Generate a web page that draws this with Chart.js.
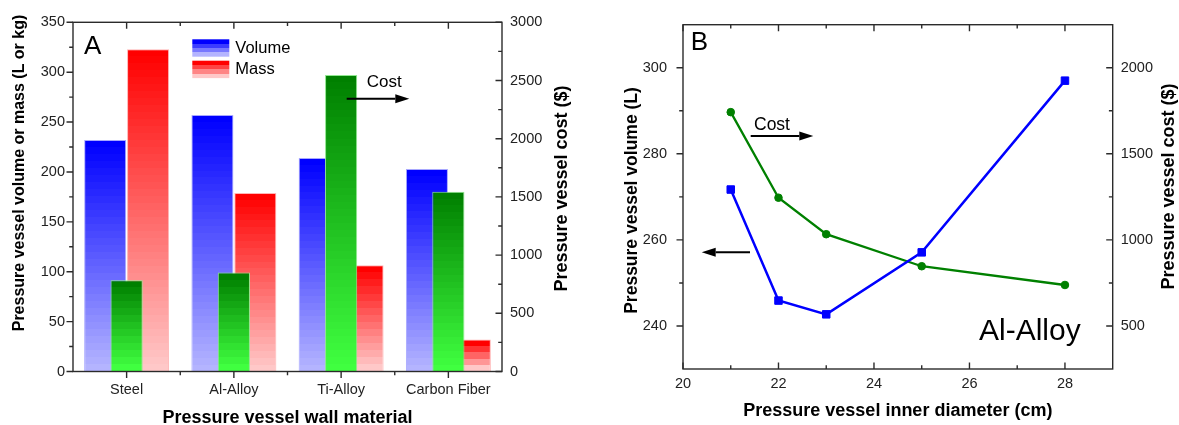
<!DOCTYPE html>
<html>
<head>
<meta charset="utf-8">
<script src="https://cdn.jsdelivr.net/npm/chart.js@4.4.1/dist/chart.umd.min.js"></script>
<style>
  html, body { margin: 0; padding: 0; background: #fff; }
  #wrap { position: relative; width: 1179px; height: 425px; }
  #wrap canvas { position: absolute; top: 0; }
  #chartA { left: 0; }
  #chartB { left: 600px; }
</style>
</head>
<body>
<div id="wrap">
  <canvas id="chartA" width="600" height="425"></canvas>
  <canvas id="chartB" width="579" height="425"></canvas>
</div>
<script>
// Panel A: vessel wall materials
const materials = ['Steel', 'Al-Alloy', 'Ti-Alloy', 'Carbon Fiber'];
const volumeL = [232, 257, 214, 203];
const massKg = [323, 179, 106.5, 32];
const costUsd = [785, 850, 2547, 1545];
const volMassTicks = [0, 50, 100, 150, 200, 250, 300, 350];
const costTicksA = [0, 500, 1000, 1500, 2000, 2500, 3000];

// Panel B: Al-alloy vessel against inner diameter
const diameterCm = [21, 22, 23, 25, 28];
const volumeB = [271.7, 245.9, 242.7, 257.1, 297];
const costB = [1742, 1245, 1033, 847, 738];
const diameterTicks = [20, 22, 24, 26, 28];
const volumeTicksB = [240, 260, 280, 300];
const costTicksB = [500, 1000, 1500, 2000];

Chart.defaults.font.family = '"Liberation Sans", Arial, sans-serif';
Chart.defaults.color = '#222';

// top colour -> bottom colour of each gradient fill
const VOL = [[0, 0, 255], [180, 180, 255]];
const MASS = [[255, 0, 0], [255, 200, 200]];
const COST = [[0, 128, 0], [64, 255, 64]];

// stepped vertical gradient, roughly one band every 7px
function banded(ctx, y0, y1, stops) {
  const [top, bot] = stops;
  const g = ctx.createLinearGradient(0, y0, 0, y1);
  const n = Math.max(4, Math.round(Math.abs(y1 - y0) / 7));
  for (let i = 0; i < n; i++) {
    const t = i / (n - 1);
    const c = 'rgb(' + top.map((v, k) => Math.round(v + (bot[k] - v) * t)).join(',') + ')';
    g.addColorStop(i / n, c);
    g.addColorStop((i + 1) / n, c);
  }
  return g;
}

function barFill(stops) {
  return c => {
    if (c.type !== 'data' || !c.chart.chartArea) return 'rgb(' + stops[0].join(',') + ')';
    const y = c.chart.scales[c.dataset.yAxisID];
    return banded(c.chart.ctx, y.getPixelForValue(c.raw), y.getPixelForValue(0), stops);
  };
}

const useTicks = list => s => { s.ticks = list.map(value => ({ value })); };
const plain = v => String(v);

// box around the plot area with major/minor tick marks (dir 1 = outward, -1 = inward)
const framePlugin = {
  id: 'frame',
  afterDatasetsDraw(chart, args, opts) {
    const { ctx, chartArea: a } = chart;
    ctx.save();
    ctx.strokeStyle = '#2b2b2b';
    ctx.lineWidth = 1.4;
    ctx.strokeRect(a.left, a.top, a.right - a.left, a.bottom - a.top);
    ctx.beginPath();
    for (const [id, side, dir] of opts.marks) {
      const s = chart.scales[id];
      const major = s.ticks.map((t, i) => s.getPixelForTick(i));
      const minor = [];
      for (let i = 0; i < major.length - 1; i++) minor.push((major[i] + major[i + 1]) / 2);
      if (major.length > 1) {
        const step = major[1] - major[0];
        minor.push(major[0] - step / 2, major[major.length - 1] + step / 2);
      }
      const lo = s.isHorizontal() ? a.left : a.top;
      const hi = s.isHorizontal() ? a.right : a.bottom;
      const mark = (p, len) => {
        const L = len * dir;
        if (side === 'bottom') { ctx.moveTo(p, a.bottom); ctx.lineTo(p, a.bottom + L); }
        else if (side === 'top') { ctx.moveTo(p, a.top); ctx.lineTo(p, a.top - L); }
        else if (side === 'left') { ctx.moveTo(a.left, p); ctx.lineTo(a.left - L, p); }
        else { ctx.moveTo(a.right, p); ctx.lineTo(a.right + L, p); }
      };
      major.forEach(p => { if (p >= lo - 1 && p <= hi + 1) mark(p, 6.5); });
      minor.forEach(p => { if (p > lo + 2 && p < hi - 2) mark(p, 3.8); });
    }
    ctx.stroke();
    ctx.restore();
  }
};

// panel letters, side titles, arrows and the legend keys
const notesPlugin = {
  id: 'notes',
  afterDatasetsDraw(chart, args, opts) {
    const ctx = chart.ctx;
    ctx.save();
    ctx.fillStyle = '#000';
    ctx.strokeStyle = '#000';
    for (const t of opts.texts || []) {
      ctx.save();
      ctx.font = t.font;
      ctx.translate(t.x, t.y);
      if (t.rotate) ctx.rotate(-Math.PI / 2);
      ctx.textAlign = t.align || 'left';
      ctx.textBaseline = t.baseline || 'alphabetic';
      ctx.fillText(t.text, 0, 0);
      ctx.restore();
    }
    for (const [x0, y, x1] of opts.arrows || []) {
      const d = Math.sign(x1 - x0), head = 14;
      ctx.lineWidth = 2;
      ctx.beginPath();
      ctx.moveTo(x0, y);
      ctx.lineTo(x1 - d * head, y);
      ctx.stroke();
      ctx.beginPath();
      ctx.moveTo(x1, y);
      ctx.lineTo(x1 - d * head, y - 4.5);
      ctx.lineTo(x1 - d * head, y + 4.5);
      ctx.closePath();
      ctx.fill();
    }
    for (const k of opts.keys || []) {
      ctx.fillStyle = banded(ctx, k.y, k.y + k.h, k.stops);
      ctx.fillRect(k.x, k.y, k.w, k.h);
      ctx.fillStyle = '#000';
      ctx.font = '16.5px "Liberation Sans", Arial, sans-serif';
      ctx.textBaseline = 'middle';
      ctx.textAlign = 'left';
      ctx.fillText(k.label, k.x + k.w + 6, k.y + k.h / 2 + 0.5);
    }
    ctx.restore();
  }
};

const tickFont = { size: 14.5 };
const titleFont = { size: 18, weight: 'bold' };
const bold = size => 'bold ' + size + 'px "Liberation Sans", Arial, sans-serif';
const regular = size => size + 'px "Liberation Sans", Arial, sans-serif';
const noGrid = { display: false, drawTicks: false };

new Chart(document.getElementById('chartA'), {
  type: 'bar',
  data: {
    labels: materials,
    datasets: [
      {
        label: 'Cost', data: costUsd, yAxisID: 'yCost', order: 0, grouped: false,
        categoryPercentage: 0.3, barPercentage: 1,
        backgroundColor: barFill(COST), borderColor: '#90e890', borderWidth: 1
      },
      {
        label: 'Volume', data: volumeL, yAxisID: 'y', order: 1,
        categoryPercentage: 0.8, barPercentage: 0.98,
        backgroundColor: barFill(VOL), borderColor: '#a8a8ff', borderWidth: 1
      },
      {
        label: 'Mass', data: massKg, yAxisID: 'y', order: 2,
        categoryPercentage: 0.8, barPercentage: 0.98,
        backgroundColor: barFill(MASS), borderColor: '#ffb4b4', borderWidth: 1
      }
    ]
  },
  options: {
    responsive: false,
    animation: false,
    layout: { padding: { top: 22.3 } },
    plugins: {
      legend: { display: false },
      tooltip: { enabled: false },
      frame: { marks: [['x', 'bottom', 1], ['x', 'top', -1], ['y', 'left', 1], ['yCost', 'right', -1]] },
      notes: {
        texts: [
          { text: 'A', x: 84, y: 54.3, font: regular(26) },
          { text: 'Cost', x: 366.7, y: 87.3, font: regular(17) },
          { text: 'Pressure vessel volume or mass (L or kg)', x: 19.5, y: 173, rotate: true,
            align: 'center', baseline: 'middle', font: bold(16) },
          { text: 'Pressure vessel cost ($)', x: 562.5, y: 188.5, rotate: true,
            align: 'center', baseline: 'middle', font: bold(18) }
        ],
        arrows: [[346.7, 98.7, 409.3]],
        keys: [
          { label: 'Volume', x: 192.3, y: 39.3, w: 37, h: 17.4, stops: VOL },
          { label: 'Mass', x: 192.3, y: 60.7, w: 37, h: 17.4, stops: MASS }
        ]
      }
    },
    scales: {
      x: {
        grid: noGrid, border: { display: false },
        ticks: { padding: 10, font: tickFont, maxRotation: 0 },
        title: { display: true, text: 'Pressure vessel wall material', color: '#000',
                 font: titleFont, padding: { top: 0, bottom: -3.8 } },
        afterFit: s => { s.height = 53.5; }
      },
      y: {
        position: 'left', min: 0, max: 350,
        grid: noGrid, border: { display: false },
        ticks: { padding: 8, font: tickFont, callback: plain },
        afterBuildTicks: useTicks(volMassTicks),
        afterFit: s => { s.width = 73; }
      },
      yCost: {
        position: 'right', min: 0, max: 3000,
        grid: noGrid, border: { display: false },
        ticks: { padding: 8, font: tickFont, callback: plain },
        afterBuildTicks: useTicks(costTicksA),
        afterFit: s => { s.width = 98; }
      }
    }
  },
  plugins: [framePlugin, notesPlugin]
});

new Chart(document.getElementById('chartB'), {
  type: 'line',
  data: {
    datasets: [
      {
        label: 'Volume', yAxisID: 'y',
        data: diameterCm.map((d, i) => ({ x: d, y: volumeB[i] })),
        borderColor: '#0000ff', backgroundColor: '#0000ff', borderWidth: 2.5,
        pointStyle: 'rect', pointRadius: 5.3, pointBorderWidth: 1, tension: 0
      },
      {
        label: 'Cost', yAxisID: 'yCost',
        data: diameterCm.map((d, i) => ({ x: d, y: costB[i] })),
        borderColor: '#008000', backgroundColor: '#008000', borderWidth: 2.3,
        pointStyle: 'circle', pointRadius: 3.8, pointBorderWidth: 1, tension: 0
      }
    ]
  },
  options: {
    responsive: false,
    animation: false,
    layout: { padding: { top: 21.5 } },
    plugins: {
      legend: { display: false },
      tooltip: { enabled: false },
      frame: { marks: [['x', 'bottom', -1], ['x', 'top', -1], ['y', 'left', 1], ['yCost', 'right', -1]] },
      notes: {
        texts: [
          { text: 'B', x: 90.7, y: 50, font: regular(26) },
          { text: 'Cost', x: 154, y: 130, font: regular(17.5) },
          { text: 'Al-Alloy', x: 379, y: 340, font: regular(30) },
          { text: 'Pressure vessel volume (L)', x: 32.5, y: 200.5, rotate: true,
            align: 'center', baseline: 'middle', font: bold(17.5) },
          { text: 'Pressure vessel cost ($)', x: 569, y: 186.5, rotate: true,
            align: 'center', baseline: 'middle', font: bold(18) }
        ],
        arrows: [[150.7, 136, 213.3], [150, 252.3, 101.7]]
      }
    },
    scales: {
      x: {
        type: 'linear', min: 20, max: 29,
        grid: noGrid, border: { display: false },
        ticks: { padding: 6.3, font: tickFont, callback: plain },
        afterBuildTicks: useTicks(diameterTicks),
        title: { display: true, text: 'Pressure vessel inner diameter (cm)', color: '#000',
                 font: titleFont, padding: { top: 0, bottom: 2.7 } },
        afterFit: s => { s.height = 56; }
      },
      y: {
        position: 'left', min: 230, max: 310,
        grid: noGrid, border: { display: false },
        ticks: { padding: 16, font: tickFont, callback: plain },
        afterBuildTicks: useTicks(volumeTicksB),
        afterFit: s => { s.width = 83; }
      },
      yCost: {
        position: 'right', min: 250, max: 2250,
        grid: noGrid, border: { display: false },
        ticks: { padding: 8, font: tickFont, callback: plain },
        afterBuildTicks: useTicks(costTicksB),
        afterFit: s => { s.width = 66.3; }
      }
    }
  },
  plugins: [framePlugin, notesPlugin]
});
</script>
</body>
</html>
